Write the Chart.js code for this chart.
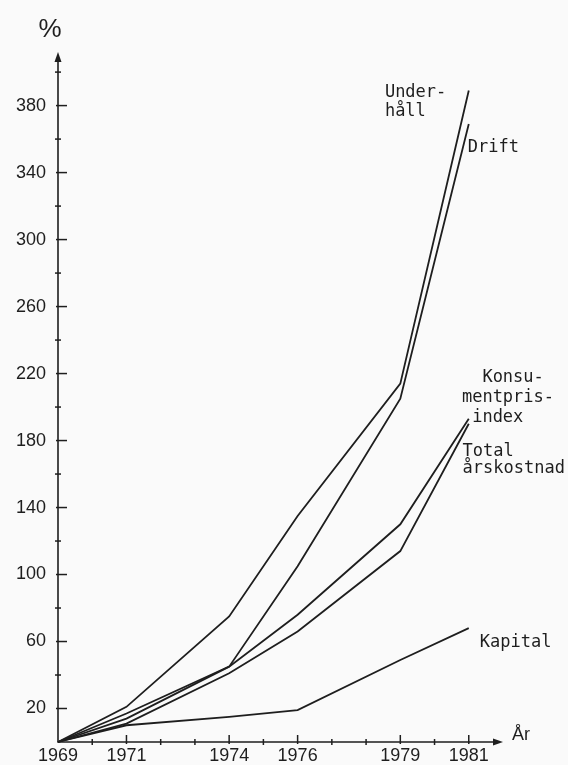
<!DOCTYPE html>
<html>
<head>
<meta charset="utf-8">
<script src="https://cdn.jsdelivr.net/npm/chart.js"></script>
<style>
  html, body { margin: 0; padding: 0; background: #fafafa; }
  canvas { display: block; }
</style>
</head>
<body>
<canvas id="chart" width="568" height="765"></canvas>
<script>
// values (index, 1969 = 0 %)
const years = [1969, 1971, 1974, 1976, 1979, 1981];
const underhall = [0, 21, 75, 135, 214, 389];
const drift = [0, 17, 45, 105, 205, 369];
const konsumentprisindex = [0, 14, 45, 76, 130, 193];
const totalArskostnad = [0, 11, 41, 66, 114, 190];
const kapital = [0, 10, 15, 19, 49, 68];

const yearLabels = [1969, 1971, 1974, 1976, 1979, 1981];
const percentLabels = [20, 60, 100, 140, 180, 220, 260, 300, 340, 380];

const X_MIN = 1969, X_MAX = 1982;
const Y_MIN = 0, Y_MAX = 412;
const INK = "#1e1e1e";

// series names, anchored in data units (year, %)
const seriesNotes = [
  { lines: ["Under-", "håll"], x: 1978.55, y: 385, dy: 19 },
  { lines: ["Drift"], x: 1980.97, y: 352 },
  { lines: ["  Konsu-", "mentpris-", " index"], x: 1980.8, y: 215, dy: 20 },
  { lines: ["Total", "årskostnad"], x: 1980.82, y: 171, dy: 17 },
  { lines: ["Kapital"], x: 1981.32, y: 57 },
];

function toPoints(vals) {
  return vals.map((v, i) => ({ x: years[i], y: v }));
}

function line(label, vals) {
  return {
    label: label,
    data: toPoints(vals),
    borderColor: INK,
    borderWidth: 1.8,
    pointRadius: 0,
    tension: 0,
    fill: false,
    clip: false,
  };
}

const axesPlugin = {
  id: "axesPlugin",
  afterDraw(chart) {
    const { ctx, scales: { x, y } } = chart;
    const x0 = x.getPixelForValue(X_MIN);
    const y0 = y.getPixelForValue(Y_MIN);
    const xTip = x.getPixelForValue(X_MAX);
    const yTip = y.getPixelForValue(Y_MAX);

    ctx.save();
    ctx.strokeStyle = INK;
    ctx.fillStyle = INK;
    ctx.lineWidth = 1.6;

    // axis lines
    ctx.beginPath();
    ctx.moveTo(x0, yTip + 4);
    ctx.lineTo(x0, y0);
    ctx.lineTo(xTip - 4, y0);
    ctx.stroke();

    // arrow heads
    ctx.beginPath();
    ctx.moveTo(x0, yTip);
    ctx.lineTo(x0 - 3.5, yTip + 10);
    ctx.lineTo(x0 + 3.5, yTip + 10);
    ctx.closePath();
    ctx.fill();
    ctx.beginPath();
    ctx.moveTo(xTip, y0);
    ctx.lineTo(xTip - 10, y0 - 3.5);
    ctx.lineTo(xTip - 10, y0 + 3.5);
    ctx.closePath();
    ctx.fill();

    // y ticks
    ctx.lineWidth = 1.5;
    for (let v = 20; v <= 400; v += 20) {
      const py = y.getPixelForValue(v);
      const big = percentLabels.includes(v);
      ctx.beginPath();
      ctx.moveTo(x0 - (big ? 2 : 3), py);
      ctx.lineTo(x0 + (big ? 9 : 3), py);
      ctx.stroke();
    }
    // x ticks
    for (let yr = 1970; yr <= 1981; yr++) {
      const px = x.getPixelForValue(yr);
      const big = yearLabels.includes(yr);
      ctx.beginPath();
      ctx.moveTo(px, y0 - (big ? 7 : 3));
      ctx.lineTo(px, y0 + (big ? 2 : 3));
      ctx.stroke();
    }

    // axis titles
    ctx.font = "26px 'Liberation Sans'";
    ctx.textAlign = "center";
    ctx.textBaseline = "alphabetic";
    ctx.fillText("%", x0 - 8, yTip - 15);
    ctx.font = "18px 'Liberation Sans'";
    ctx.textAlign = "left";
    ctx.fillText("År", xTip + 9, y0 - 2);

    // series names
    ctx.font = "17px 'DejaVu Sans Mono'";
    seriesNotes.forEach((n) => {
      const px = x.getPixelForValue(n.x);
      const py = y.getPixelForValue(n.y);
      n.lines.forEach((t, i) => ctx.fillText(t, px, py + i * (n.dy || 0)));
    });
    ctx.restore();
  },
};

new Chart(document.getElementById("chart"), {
  type: "line",
  data: {
    datasets: [
      line("Underhåll", underhall),
      line("Drift", drift),
      line("Konsumentprisindex", konsumentprisindex),
      line("Total årskostnad", totalArskostnad),
      line("Kapital", kapital),
    ],
  },
  options: {
    responsive: false,
    animation: false,
    devicePixelRatio: 1,
    layout: { padding: { top: 52, right: 65, bottom: 0, left: 0 } },
    plugins: { legend: { display: false }, tooltip: { enabled: false } },
    scales: {
      x: {
        type: "linear",
        min: X_MIN,
        max: X_MAX,
        grid: { display: false, drawTicks: false },
        border: { display: false },
        afterFit: (s) => { s.height = 23; },
        ticks: {
          stepSize: 1,
          autoSkip: false,
          maxRotation: 0,
          padding: 3,
          color: INK,
          font: { family: "Liberation Sans", size: 18 },
          callback: (v) => (yearLabels.includes(v) ? String(v) : ""),
        },
      },
      y: {
        min: Y_MIN,
        max: Y_MAX,
        grid: { display: false, drawTicks: false },
        border: { display: false },
        afterFit: (s) => { s.width = 58; },
        ticks: {
          stepSize: 20,
          autoSkip: false,
          padding: 12,
          color: INK,
          font: { family: "Liberation Sans", size: 18 },
          callback: (v) => (percentLabels.includes(v) ? String(v) : ""),
        },
      },
    },
  },
  plugins: [axesPlugin],
});
</script>
</body>
</html>
